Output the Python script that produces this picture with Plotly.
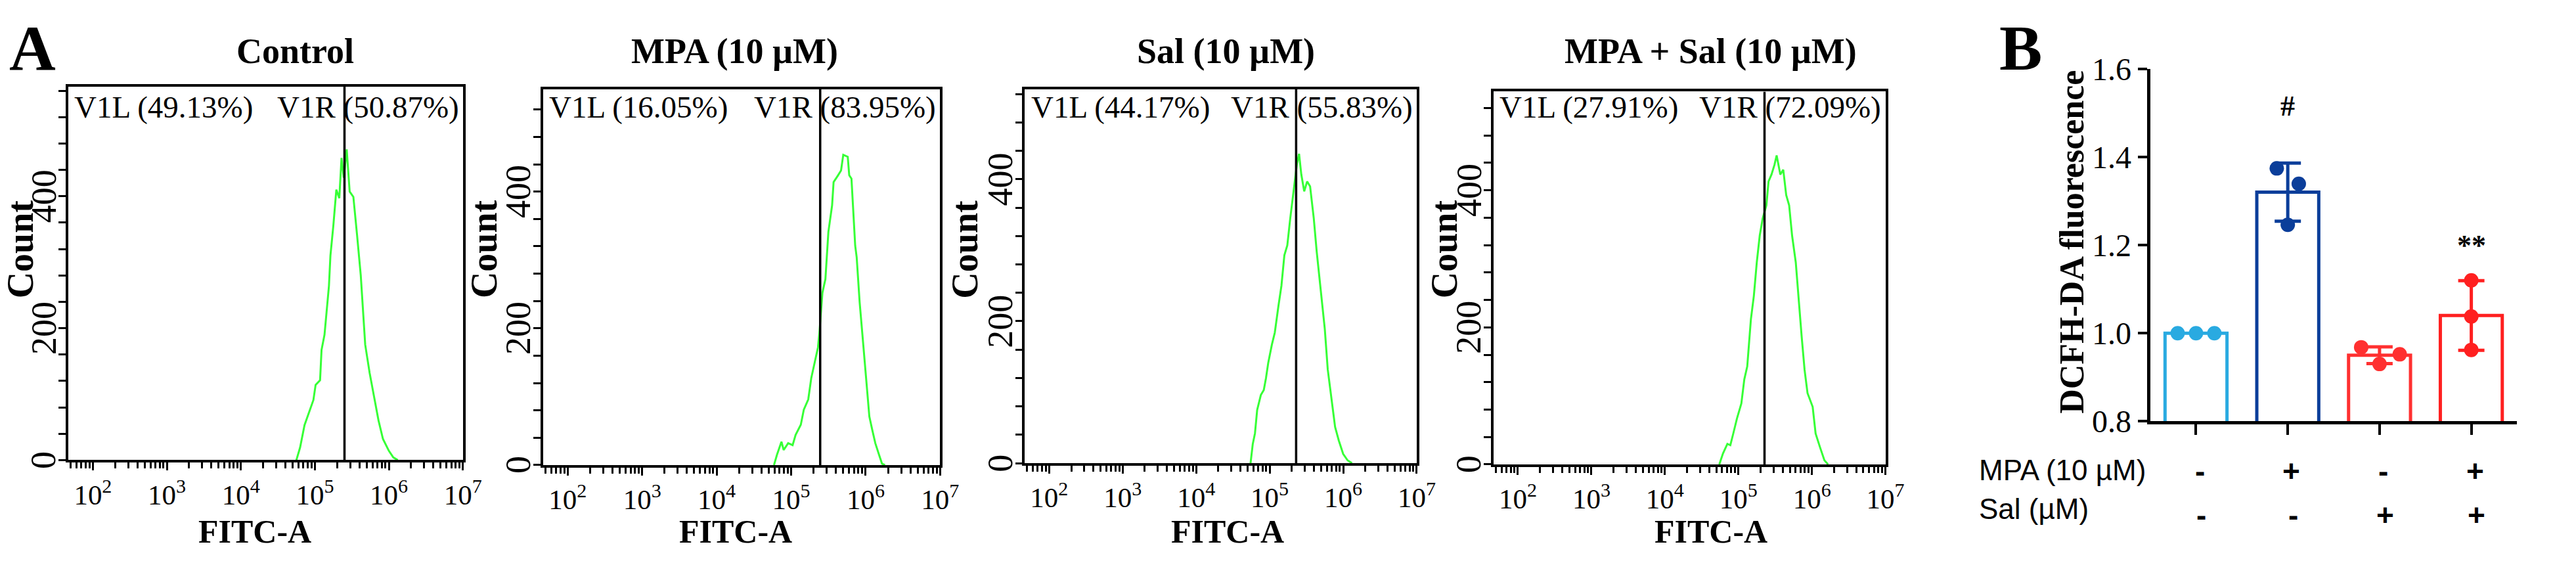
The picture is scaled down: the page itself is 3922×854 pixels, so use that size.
import numpy as np
import plotly.graph_objects as go

W, H = 3922, 854

# ---------------- Panel A data (flow cytometry histograms) ----------------
TITLES = ["Control", "MPA (10 µM)", "Sal (10 µM)", "MPA + Sal (10 µM)"]
V1L_PCT = ["49.13%", "16.05%", "44.17%", "27.91%"]
V1R_PCT = ["50.87%", "83.95%", "55.83%", "72.09%"]
GATE_LOG10 = [5.40, 5.39, 5.36, 5.355]

CTRL_LOGX = [4.75, 4.80, 4.86, 4.92, 4.98, 5.01, 5.07, 5.09, 5.13, 5.19, 5.21, 5.25, 5.29, 5.33,
             5.36, 5.39, 5.43, 5.47, 5.52, 5.57, 5.62, 5.68, 5.74, 5.80, 5.86, 5.92, 6.00, 6.06, 6.12]
CTRL_COUNT = [0, 19, 53, 73, 91, 114, 121, 167, 190, 264, 310, 356, 410, 397,
              458, 428, 471, 407, 399, 341, 280, 175, 132, 96, 60, 32, 14, 4, 0]

MPA_LOGX = [4.77, 4.81, 4.87, 4.90, 4.96, 5.02, 5.06, 5.13, 5.17, 5.23, 5.27, 5.32, 5.36, 5.38,
            5.42, 5.46, 5.50, 5.55, 5.57, 5.63, 5.67, 5.70, 5.76, 5.78, 5.81, 5.83, 5.86, 5.88,
            5.92, 5.97, 6.01, 6.05, 6.09, 6.13, 6.18, 6.22, 6.26]
MPA_COUNT = [0, 15, 34, 22, 32, 29, 44, 59, 81, 96, 127, 154, 172, 194,
             252, 272, 341, 380, 414, 424, 431, 454, 451, 424, 419, 380, 321, 304,
             238, 174, 120, 71, 51, 32, 15, 2, 0]

SAL_LOGX = [4.74, 4.77, 4.80, 4.83, 4.88, 4.92, 4.95, 4.98, 5.03, 5.07, 5.12, 5.16, 5.20, 5.24,
            5.28, 5.33, 5.37, 5.40, 5.43, 5.47, 5.51, 5.55, 5.60, 5.64, 5.70, 5.75, 5.79, 5.84,
            5.89, 5.94, 6.00, 6.06, 6.12]
SAL_COUNT = [0, 27, 42, 75, 96, 103, 120, 141, 167, 184, 222, 250, 293, 307,
             345, 388, 421, 436, 407, 383, 397, 390, 345, 298, 236, 189, 132, 94,
             51, 32, 13, 4, 0]

COMBO_LOGX = [4.74, 4.79, 4.85, 4.89, 4.93, 4.98, 5.04, 5.08, 5.12, 5.17, 5.21, 5.25, 5.29, 5.33,
              5.38, 5.41, 5.45, 5.49, 5.52, 5.57, 5.61, 5.65, 5.69, 5.73, 5.78, 5.82, 5.86, 5.90,
              5.94, 6.01, 6.05, 6.11, 6.17, 6.22]
COMBO_COUNT = [0, 16, 30, 28, 45, 67, 89, 124, 143, 212, 246, 295, 334, 359,
               378, 413, 423, 437, 451, 423, 430, 393, 378, 334, 295, 236, 187, 138,
               104, 84, 45, 25, 6, 0]

HIST_LOGX = [CTRL_LOGX, MPA_LOGX, SAL_LOGX, COMBO_LOGX]
HIST_COUNT = [CTRL_COUNT, MPA_COUNT, SAL_COUNT, COMBO_COUNT]

X_TICK_EXP = [2, 3, 4, 5, 6, 7]
Y_LABELED = [0, 200, 400]

# ---------------- Panel B data (bar chart) ----------------
GROUPS = ["Control", "MPA", "Sal", "MPA+Sal"]
BAR_MEAN = [1.00, 1.32, 0.95, 1.04]
BAR_SD = [0.0, 0.066, 0.019, 0.079]
POINTS = [[1.00, 1.00, 1.00],
          [1.374, 1.339, 1.246],
          [0.968, 0.952, 0.930],
          [1.120, 1.038, 0.962]]
POINT_OFFSETS = [[-0.2, 0.0, 0.2],
                 [-0.12, 0.12, 0.0],
                 [-0.2, 0.22, 0.0],
                 [0.0, 0.0, 0.0]]
MPA_SIGNS = ["-", "+", "-", "+"]
SAL_SIGNS = ["-", "-", "+", "+"]
SIG_MARKS = ["", "#", "", "**"]
SIG_Y = [None, 1.515, None, 1.20]
B_YTICKS = [0.8, 1.0, 1.2, 1.4, 1.6]

# ---------------- layout geometry (pixels) ----------------
PANEL_X = [(105, 710), (833, 1442), (1572, 2173), (2291, 2892)]
PANEL_Y = [(113, 719), (117, 727), (117, 724), (121, 726)]
Y_TOP = [566, 550, 527, 544]
TITLE_X = [453, 1127, 1880, 2624]
XT_X = [391, 1128, 1883, 2624]
COUNT_X = [31, 742, 1480, 2215]
COUNT_Y = 377
YLAB_OFFSET = 38
B_X = (3298, 3861)
B_Y = (84, 656)

SERIF = "Liberation Serif"
SANS = "Liberation Sans"
BLACK = "#000000"
GREEN = "#36ff36"
BAR_COLORS = ["#29aae1", "#0b3e9a", "#ff3030", "#ff2020"]

fig = go.Figure()
layout = dict(width=W, height=H, margin=dict(l=0, r=0, t=0, b=0),
              paper_bgcolor="white", plot_bgcolor="white", showlegend=False,
              font=dict(family=SERIF, color=BLACK))
annotations = []


def px_x(p):
    return p / W


def px_y(p):
    return 1 - p / H


minor_vals = [k * 10 ** d for d in range(1, 7) for k in range(2, 10) if k * 10 ** d > 10 ** 1.67]

for i in range(4):
    n = i + 1
    xs = f"x{n}" if n > 1 else "x"
    ys = f"y{n}" if n > 1 else "y"
    xa = f"xaxis{n}" if n > 1 else "xaxis"
    ya = f"yaxis{n}" if n > 1 else "yaxis"
    x0, x1 = PANEL_X[i]
    y0, y1 = PANEL_Y[i]
    ytop = Y_TOP[i]

    fig.add_trace(go.Scatter(x=10 ** np.array(HIST_LOGX[i]), y=HIST_COUNT[i], mode="lines",
                             line=dict(color=GREEN, width=3), xaxis=xs, yaxis=ys,
                             hoverinfo="skip"))
    g = 10 ** GATE_LOG10[i]
    fig.add_trace(go.Scatter(x=[g, g], y=[0, ytop], mode="lines",
                             line=dict(color=BLACK, width=3.5), xaxis=xs, yaxis=ys,
                             hoverinfo="skip", cliponaxis=False))

    yvals = list(range(0, 561, 40))
    layout[xa] = dict(type="log", range=[1.67, 7.0], domain=[px_x(x0), px_x(x1)], anchor=ys,
                      showline=True, mirror=True, linecolor=BLACK, linewidth=3.5,
                      ticks="outside", ticklen=12, tickwidth=3, tickcolor=BLACK,
                      tickvals=[10 ** e for e in X_TICK_EXP],
                      ticktext=[f"10<sup>{e}</sup>" for e in X_TICK_EXP],
                      tickfont=dict(family=SERIF, size=43, color=BLACK),
                      minor=dict(tickmode="array", tickvals=minor_vals, ticks="outside",
                                 ticklen=9, tickwidth=2.5, tickcolor=BLACK),
                      showgrid=False, zeroline=False, fixedrange=True)
    layout[ya] = dict(range=[0, ytop], domain=[px_y(y1), px_y(y0)], anchor=xs,
                      showline=True, mirror=True, linecolor=BLACK, linewidth=3.5,
                      ticks="outside", ticklen=11, tickwidth=3, tickcolor=BLACK,
                      tickvals=yvals, showticklabels=False,
                      showgrid=False, zeroline=False, fixedrange=True)

    for v in Y_LABELED:
        annotations.append(dict(text=str(v), xref="paper", yref=ys, textangle=-90,
                                x=px_x(x0 - YLAB_OFFSET), y=v, xanchor="center",
                                yanchor="middle", showarrow=False,
                                font=dict(family=SERIF, size=54, color=BLACK)))
    annotations.append(dict(text=f"V1L ({V1L_PCT[i]})", xref=f"{xs} domain", yref=f"{ys} domain",
                            x=0.012, y=(y1 - 146) / (y1 - y0), xanchor="left", yanchor="middle",
                            showarrow=False, font=dict(family=SERIF, size=47, color=BLACK)))
    annotations.append(dict(text=f"V1R ({V1R_PCT[i]})", xref=f"{xs} domain", yref=f"{ys} domain",
                            x=0.993, y=(y1 - 146) / (y1 - y0), xanchor="right", yanchor="middle",
                            showarrow=False, font=dict(family=SERIF, size=47, color=BLACK)))
    annotations.append(dict(text=f"<b>{TITLES[i]}</b>", xref="paper", yref="paper",
                            x=px_x(TITLE_X[i]), y=px_y(55), xanchor="center", yanchor="middle",
                            showarrow=False, font=dict(family=SERIF, size=54, color=BLACK)))
    annotations.append(dict(text="<b>FITC-A</b>", xref="paper", yref="paper",
                            x=px_x(XT_X[i]), y=px_y(835), xanchor="center", yanchor="middle",
                            showarrow=False, font=dict(family=SERIF, size=50, color=BLACK)))
    annotations.append(dict(text="<b>Count</b>", xref="paper", yref="paper", textangle=-90,
                            x=px_x(COUNT_X[i]), y=px_y(COUNT_Y), xanchor="center",
                            yanchor="middle", showarrow=False,
                            font=dict(family=SERIF, size=56, color=BLACK)))

annotations.append(dict(text="<b>A</b>", xref="paper", yref="paper", x=px_x(50), y=px_y(50),
                        xanchor="center", yanchor="middle", showarrow=False,
                        font=dict(family=SERIF, size=98, color=BLACK)))

# ---------------- Panel B ----------------
cat_x = list(range(len(GROUPS)))
for j in range(len(GROUPS)):
    c = BAR_COLORS[j]
    fig.add_trace(go.Bar(x=[cat_x[j]], y=[BAR_MEAN[j]], width=0.675,
                         marker=dict(color="rgba(255,255,255,0)", line=dict(color=c, width=5)),
                         xaxis="x5", yaxis="y5", hoverinfo="skip"))
for j in range(len(GROUPS)):
    c = BAR_COLORS[j]
    if BAR_SD[j] > 0:
        fig.add_trace(go.Scatter(x=[cat_x[j]], y=[BAR_MEAN[j]], mode="markers",
                                 marker=dict(size=1, color="rgba(0,0,0,0)"),
                                 error_y=dict(type="data", array=[BAR_SD[j]], visible=True,
                                              color=c, thickness=5, width=20),
                                 xaxis="x5", yaxis="y5", hoverinfo="skip"))
    fig.add_trace(go.Scatter(x=[cat_x[j] + o for o in POINT_OFFSETS[j]], y=POINTS[j],
                             mode="markers", marker=dict(size=22, color=c),
                             xaxis="x5", yaxis="y5", hoverinfo="skip", cliponaxis=False))

layout["xaxis5"] = dict(range=[-0.5, 3.5], domain=[px_x(B_X[0]), px_x(B_X[1])], anchor="y5",
                        showline=True, linecolor=BLACK, linewidth=5, ticks="outside", ticklen=16,
                        tickwidth=4, tickcolor=BLACK, tickvals=cat_x, showticklabels=False,
                        showgrid=False, zeroline=False, fixedrange=True)
layout["yaxis5"] = dict(range=[0.8, 1.6], domain=[px_y(B_Y[1]), px_y(B_Y[0])], anchor="x5",
                        showline=True, linecolor=BLACK, linewidth=5, ticks="outside", ticklen=14,
                        tickwidth=4, tickcolor=BLACK, tickvals=B_YTICKS,
                        ticktext=[f"{v:.1f}" for v in B_YTICKS],
                        tickfont=dict(family=SERIF, size=48, color=BLACK),
                        showgrid=False, zeroline=False, fixedrange=True)

annotations.append(dict(text="<b>B</b>", xref="paper", yref="paper", x=px_x(3099), y=px_y(50),
                        xanchor="center", yanchor="middle", showarrow=False,
                        font=dict(family=SERIF, size=98, color=BLACK)))
annotations.append(dict(text="<b>DCFH-DA fluorescence</b>", xref="paper", yref="paper",
                        textangle=-90, x=px_x(3178), y=px_y(365), xanchor="center",
                        yanchor="middle", showarrow=False,
                        font=dict(family=SERIF, size=52, color=BLACK)))
for j in range(len(GROUPS)):
    if SIG_MARKS[j]:
        annotations.append(dict(text=f"<b>{SIG_MARKS[j]}</b>", xref="x5", yref="y5",
                                x=cat_x[j], y=SIG_Y[j], xanchor="center", yanchor="middle",
                                showarrow=False, font=dict(family=SERIF, size=44, color=BLACK)))
    annotations.append(dict(text=f"<b>{MPA_SIGNS[j]}</b>", xref="x5", yref="paper",
                            x=cat_x[j] + 0.04, y=px_y(737), xanchor="center", yanchor="middle",
                            showarrow=False, font=dict(family=SANS, size=46, color=BLACK)))
    annotations.append(dict(text=f"<b>{SAL_SIGNS[j]}</b>", xref="x5", yref="paper",
                            x=cat_x[j] + 0.06, y=px_y(808), xanchor="center", yanchor="middle",
                            showarrow=False, font=dict(family=SANS, size=46, color=BLACK)))
annotations.append(dict(text="MPA (10 µM)", xref="paper", yref="paper", x=px_x(3033),
                        y=px_y(735), xanchor="left", yanchor="middle", showarrow=False,
                        font=dict(family=SANS, size=44, color=BLACK)))
annotations.append(dict(text="Sal (µM)", xref="paper", yref="paper", x=px_x(3033),
                        y=px_y(798), xanchor="left", yanchor="middle", showarrow=False,
                        font=dict(family=SANS, size=44, color=BLACK)))

layout["annotations"] = annotations
fig.update_layout(**layout)
fig.write_html("out.html")
